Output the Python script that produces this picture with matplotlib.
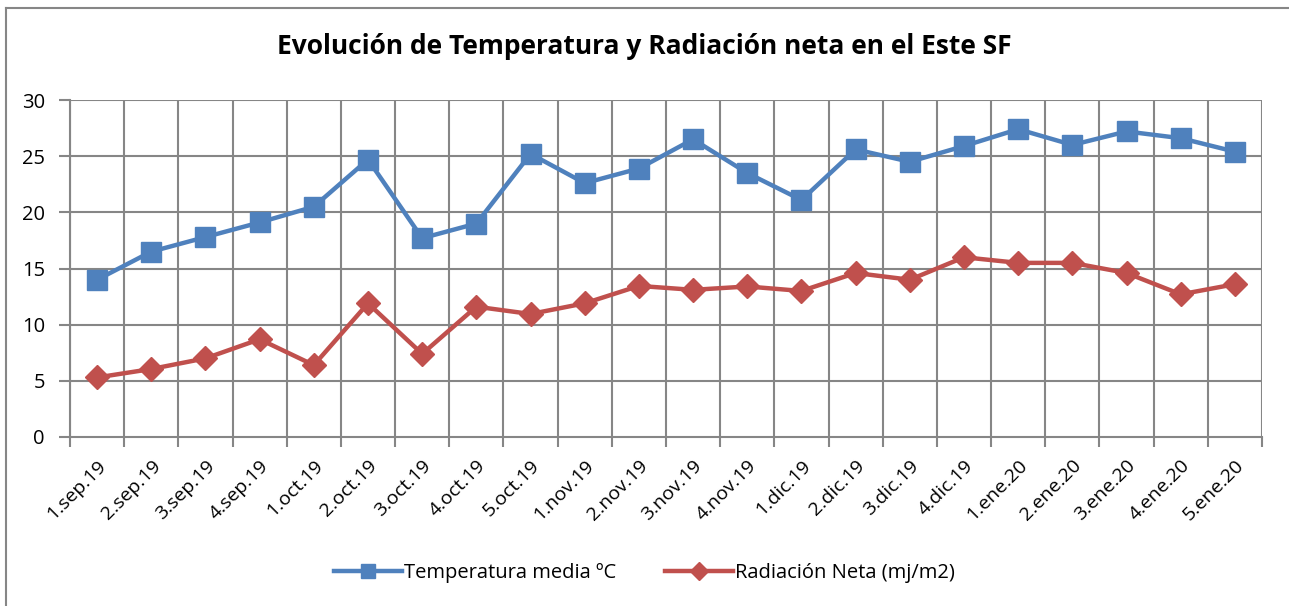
import matplotlib
matplotlib.use("Agg")
import matplotlib.pyplot as plt
from matplotlib.lines import Line2D

# categories and series
labels = ["1.sep.19", "2.sep.19", "3.sep.19", "4.sep.19", "1.oct.19", "2.oct.19",
          "3.oct.19", "4.oct.19", "5.oct.19", "1.nov.19", "2.nov.19", "3.nov.19",
          "4.nov.19", "1.dic.19", "2.dic.19", "3.dic.19", "4.dic.19", "1.ene.20",
          "2.ene.20", "3.ene.20", "4.ene.20", "5.ene.20"]
temperatura = [14.0, 16.5, 17.8, 19.1, 20.5, 24.7, 17.7, 19.0, 25.2, 22.6, 23.9,
               26.5, 23.5, 21.1, 25.6, 24.5, 25.9, 27.4, 26.0, 27.2, 26.6, 25.4]
radiacion = [5.3, 6.05, 7.0, 8.7, 6.4, 11.9, 7.4, 11.6, 10.95, 11.9, 13.45, 13.1,
             13.4, 13.0, 14.6, 14.0, 16.0, 15.5, 15.5, 14.6, 12.7, 13.6]

blue = "#4F81BD"
red = "#C0504D"
grid = "#868686"
font = "Open Sans"

fig = plt.figure(figsize=(12.89, 6.06), dpi=100)
ax = fig.add_axes([70 / 1289, 1 - 437 / 606, 1192 / 1289, 337 / 606])

x = list(range(len(labels)))
ax.plot(x, temperatura, color=blue, lw=3.2, marker="s", markersize=14,
        zorder=3, solid_joinstyle="round")
ax.plot(x, radiacion, color=red, lw=3.2, marker="D", markersize=12,
        zorder=3, solid_joinstyle="round")

ax.set_xlim(-0.5, len(labels) - 0.5)
ax.set_ylim(0, 30)
ax.set_yticks(range(0, 31, 5))

# gridlines between categories, like the spreadsheet version
bounds = [i - 0.5 for i in range(len(labels) + 1)]
for b in bounds:
    ax.axvline(b, color=grid, lw=1.5, zorder=1)
for v in range(5, 31, 5):
    ax.axhline(v, color=grid, lw=1.5, zorder=1)

ax.set_xticks(bounds, minor=True)
ax.set_xticks(x)
ax.set_xticklabels(labels, rotation=45, ha="right", rotation_mode="anchor",
                   fontsize=14, family=font)
ax.tick_params(axis="x", which="major", length=0, pad=14)
ax.tick_params(axis="x", which="minor", length=7, width=1.5, color=grid)
ax.tick_params(axis="y", length=8, width=1.5, color=grid, labelsize=14.5, pad=10)
for t in ax.get_yticklabels():
    t.set_family(font)

for side in ["top", "right"]:
    ax.spines[side].set_visible(False)
for side in ["left", "bottom"]:
    ax.spines[side].set_color(grid)
    ax.spines[side].set_linewidth(1.5)

fig.text(0.5, 1 - 47 / 606, "Evolución de Temperatura y Radiación neta en el Este SF",
         ha="center", va="center", fontsize=19, fontweight="bold", family=font)

handles = [Line2D([], [], color=blue, lw=3.2, marker="s", markersize=10),
           Line2D([], [], color=red, lw=3.2, marker="D", markersize=9)]
fig.legend(handles, ["Temperatura media ºC", "Radiación Neta (mj/m2)"],
           loc="center", bbox_to_anchor=(0.5, 1 - 573 / 606), ncol=2,
           frameon=False, handlelength=3.4, handletextpad=0.1, columnspacing=2.4,
           prop={"family": font, "size": 14.5})

# outer chart border
fig.add_artist(Line2D([6 / 1289, 6 / 1289], [0, 1 - 8 / 606],
                      transform=fig.transFigure, color=grid, lw=1.5))
fig.add_artist(Line2D([6 / 1289, 1], [1 - 8 / 606, 1 - 8 / 606],
                      transform=fig.transFigure, color=grid, lw=1.5))

fig.savefig("out.png", dpi=100)
